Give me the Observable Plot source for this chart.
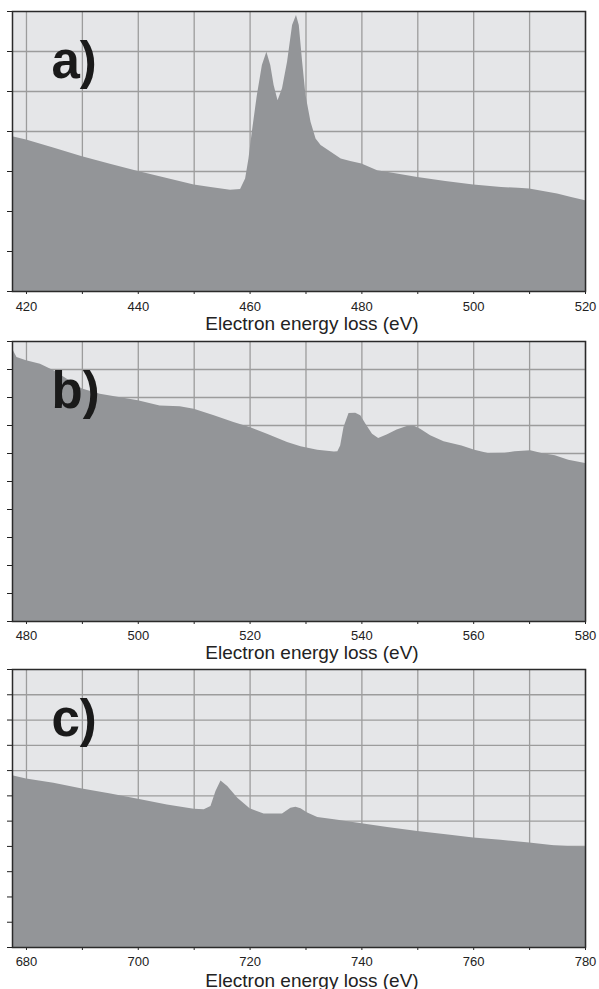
<!DOCTYPE html>
<html>
<head>
<meta charset="utf-8">
<script src="https://cdn.jsdelivr.net/npm/d3@7"></script>
<script src="https://cdn.jsdelivr.net/npm/@observablehq/plot@0.6"></script>
<style>
  html, body { margin: 0; padding: 0; background: #fff; }
  #chart svg { display: block; }
</style>
</head>
<body>
<div id="chart"></div>
<script>
// Panel a) energies (eV) and intensities (arbitrary units)
const energyA = [417.5, 420, 425, 430, 435, 440, 445, 450, 453, 456.5, 458.3, 459.2, 459.8, 460.4, 461.3, 462.2, 463.0, 463.7, 464.3, 465.0, 465.8, 466.7, 467.6, 468.3, 468.8, 469.4, 470.0, 470.9, 471.8, 472.7, 474.5, 476.3, 478, 480, 482.8, 485, 490, 495, 500, 505, 508, 510, 512.5, 515, 517.5, 520];
const intensityA = [3.87, 3.79, 3.58, 3.37, 3.18, 3.0, 2.83, 2.66, 2.6, 2.53, 2.55, 2.81, 3.31, 3.98, 4.9, 5.65, 5.98, 5.65, 5.15, 4.77, 5.07, 5.73, 6.65, 6.9, 6.65, 5.73, 4.9, 4.23, 3.81, 3.65, 3.48, 3.31, 3.25, 3.19, 3.02, 2.97, 2.85, 2.75, 2.66, 2.6, 2.58, 2.56, 2.5, 2.44, 2.35, 2.27];

// Panel b)
const energyB = [477.5, 478.3, 480, 482.5, 485, 490, 493.2, 500, 503.9, 507.5, 510, 513.6, 517.1, 520, 523.1, 526.7, 529.1, 532.1, 535.1, 535.7, 536.2, 536.8, 537.7, 538.9, 539.8, 540.7, 541.9, 543.0, 544.5, 546.3, 548.1, 549.3, 550.5, 552.3, 554.7, 557.9, 560.2, 562.6, 565.6, 567.4, 570.2, 572.2, 574.6, 577.0, 580];
const intensityB = [9.73, 9.43, 9.31, 9.19, 8.95, 8.3, 8.12, 7.88, 7.7, 7.67, 7.58, 7.35, 7.11, 6.93, 6.69, 6.39, 6.24, 6.12, 6.05, 6.06, 6.27, 6.93, 7.43, 7.44, 7.35, 7.05, 6.69, 6.54, 6.66, 6.84, 6.96, 6.98, 6.87, 6.63, 6.42, 6.27, 6.12, 6.0, 6.01, 6.06, 6.1, 6.0, 5.92, 5.76, 5.64];

// Panel c)
const energyC = [677.5, 680, 684.9, 690, 695.1, 700, 705.2, 710, 711.8, 713, 713.9, 714.8, 716, 717.8, 720, 722.5, 725.8, 727.3, 728.2, 729.1, 730.3, 732.1, 735.1, 740, 744.6, 750, 755.1, 760, 764.9, 770, 774.4, 780];
const intensityC = [6.8, 6.67, 6.5, 6.27, 6.07, 5.87, 5.64, 5.47, 5.45, 5.58, 6.17, 6.59, 6.37, 5.91, 5.49, 5.28, 5.28, 5.51, 5.55, 5.49, 5.32, 5.14, 5.05, 4.9, 4.75, 4.59, 4.46, 4.33, 4.24, 4.13, 4.03, 3.96];

const panelLabels = ["a)", "b)", "c)"];
const xDomains = [[417.5, 520], [477.5, 580], [677.5, 780]];
const yMax = [7, 10, 11];
const xTitle = "Electron energy loss (eV)";

const panels = [
  {E: energyA, V: intensityA, height: 335, mt: 11, mb: 44, tickPad: 7, titleDy: 38},
  {E: energyB, V: intensityB, height: 330, mt: 6, mb: 44, tickPad: 6, titleDy: 37},
  {E: energyC, V: intensityC, height: 324, mt: 4, mb: 42, tickPad: 6, titleDy: 39}
];

const fillColor = "#939598";
const bgColor = "#e5e6e8";
const gridColor = "#9c9c9c";
const inkColor = "#222";

const root = document.getElementById("chart");

panels.forEach((p, i) => {
  const data = p.E.map((e, j) => ({e, v: p.V[j]}));
  const [x0, x1] = xDomains[i];
  const tens = d3.range(Math.ceil(x0 / 10) * 10, x1 + 0.001, 10);
  const plot = Plot.plot({
    width: 599,
    height: p.height,
    marginTop: p.mt,
    marginBottom: p.mb,
    marginLeft: 12,
    marginRight: 14,
    style: {fontFamily: "'Liberation Sans', Arial, sans-serif", fontSize: "13px", color: inkColor, overflow: "visible"},
    x: {domain: xDomains[i]},
    y: {domain: [0, yMax[i]]},
    marks: [
      Plot.frame({fill: bgColor, stroke: null}),
      Plot.gridX({ticks: tens, stroke: gridColor, strokeOpacity: 1, strokeWidth: 1.3}),
      Plot.gridY({ticks: d3.range(1, yMax[i]), stroke: gridColor, strokeOpacity: 1, strokeWidth: 1.3}),
      Plot.areaY(data, {x: "e", y: "v", fill: fillColor, curve: "linear"}),
      Plot.axisX({ticks: tens, tickSize: 3, tickPadding: p.tickPad, tickFormat: d => (d % 20 === 0 ? String(d) : ""), label: null, fontSize: 13}),
      Plot.axisY({ticks: d3.range(0, yMax[i] + 1), tickSize: 5, tickFormat: () => "", label: null}),
      Plot.frame({stroke: "#2a2a2a", strokeWidth: 1.5}),
      Plot.text([panelLabels[i]], {text: d => d, frameAnchor: "top-left", dx: 39, dy: 66, lineAnchor: "bottom", textAnchor: "start", fontSize: 51, fontWeight: "bold", fill: "#1a1a1a"}),
      Plot.text([xTitle], {text: d => d, frameAnchor: "bottom", dx: 13, dy: p.titleDy, lineAnchor: "bottom", textAnchor: "middle", fontSize: 19, fill: inkColor})
    ]
  });
  root.appendChild(plot);
});
</script>
</body>
</html>
